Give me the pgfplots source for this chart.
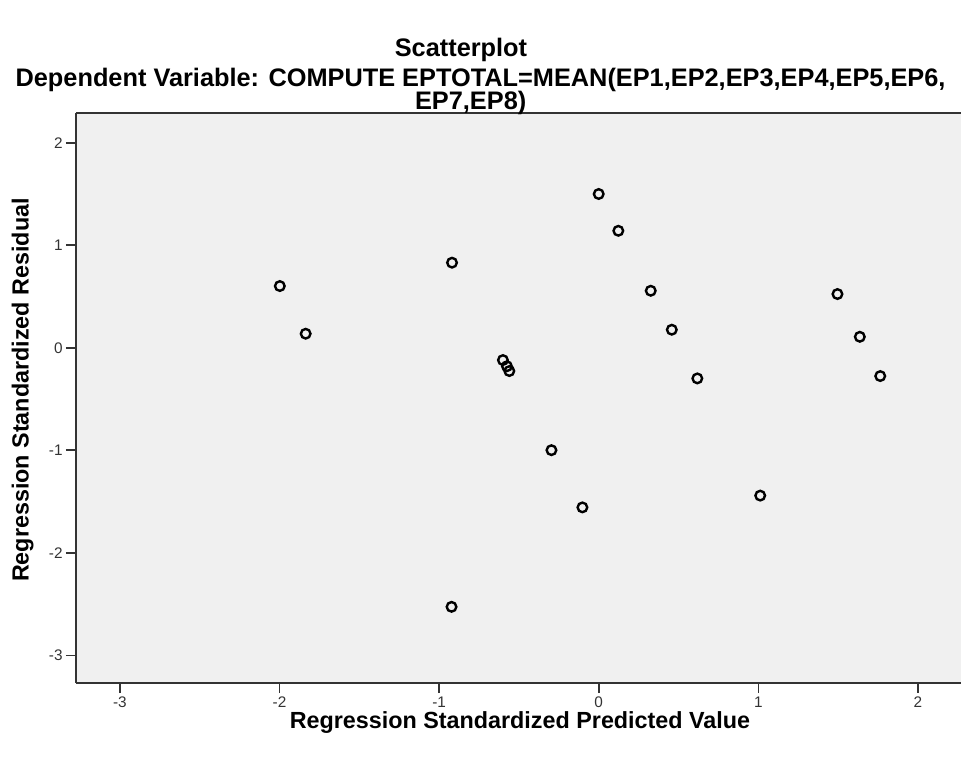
\documentclass[border=0pt]{standalone}
\usepackage{pgfplots}
\pgfplotsset{compat=1.18}
\usepackage{fontspec}
\setmainfont{Liberation Sans}
\newfontfamily\titlefont{Liberation Sans Bold}
\definecolor{plotbg}{HTML}{F0F0F0}
\definecolor{axgray}{HTML}{333333}
\begin{document}
\begin{tikzpicture}
\begin{axis}[
  at={(0,0)}, anchor=south west,
  scale only axis, width=663.75pt, height=427.5pt,
  xmin=-3.275, xmax=2.27, ymin=-3.27, ymax=2.29,
  axis x line*=box, axis y line*=left,
  xtick={-3,-2,-1,0,1,2}, ytick={-3,-2,-1,0,1,2},
  xtick pos=lower, ytick pos=left,
  tick align=outside, major tick length=7.5pt,
  tick style={axgray, line width=1.2pt},
  axis line style={axgray, line width=1.4pt},
  axis background/.style={fill=plotbg},
  /pgf/number format/assume math mode=true,
  ticklabel style={font=\fontsize{11.5}{13}\selectfont, text=axgray},
  xticklabel style={yshift=-2pt, inner sep=1pt},
  yticklabel style={xshift=1pt},
]
\addplot[only marks, mark=o, mark size=3.6pt, mark options={line width=1.8pt, draw=black}] table {
x y
-1.998 0.602
-1.836 0.137
-0.919 0.830
0.000 1.500
0.123 1.141
0.326 0.556
0.458 0.176
0.618 -0.299
-0.600 -0.120
-0.575 -0.180
-0.560 -0.227
-0.296 -0.999
-0.102 -1.557
-0.922 -2.527
1.012 -1.442
1.496 0.524
1.636 0.107
1.764 -0.276
};
\end{axis}
\node[font=\titlefont\fontsize{19}{20}\selectfont, inner sep=0pt] at (288.75pt,474.5pt) {Scatterplot};
\node[font=\titlefont\fontsize{19}{20}\selectfont, inner sep=0pt] at (303.4pt,452.5pt) {Dependent Variable: COMPUTE EPTOTAL=MEAN(EP1,EP2,EP3,EP4,EP5,EP6,};
\node[font=\titlefont\fontsize{19}{20}\selectfont, inner sep=0pt] at (296pt,435pt) {EP7,EP8)};
\node[font=\bfseries\fontsize{17.5}{20}\selectfont, inner sep=0pt] at (333pt,-29.5pt) {Regression Standardized Predicted Value};
\node[font=\bfseries\fontsize{17.5}{20}\selectfont, rotate=90, inner sep=0pt] at (-40pt,219.75pt) {Regression Standardized Residual};
\pgfresetboundingbox
\path[use as bounding box] (-57pt,-56.25pt) rectangle (663.75pt,512.25pt);
\end{tikzpicture}
\end{document}
